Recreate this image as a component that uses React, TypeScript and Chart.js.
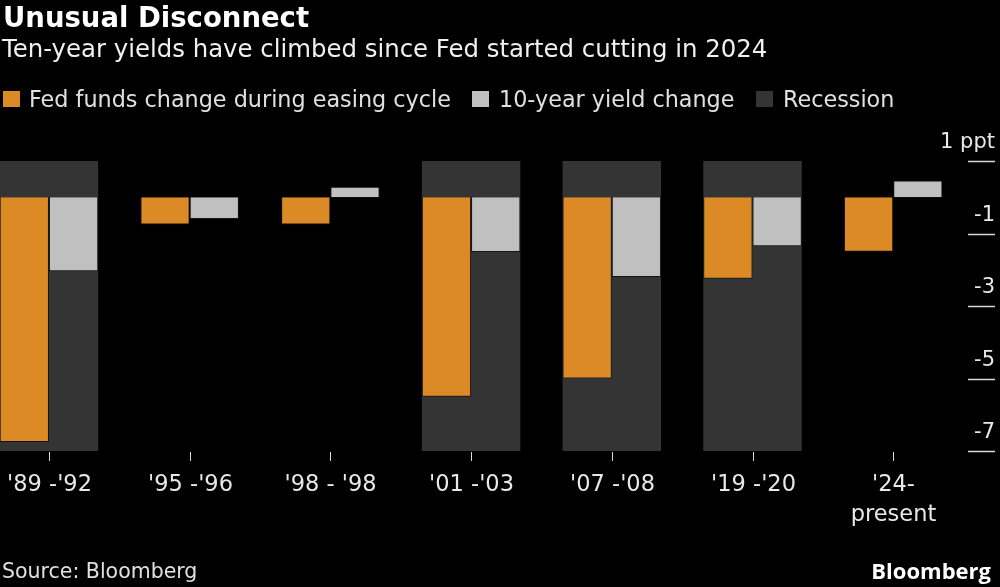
import React, { useEffect, useRef } from "react";
import { Chart, registerables } from "chart.js";

Chart.register(...registerables);

// ---------- data ----------
const categories: string[][] = [
  ["'89 -'92"],
  ["'95 -'96"],
  ["'98 - '98"],
  ["'01 -'03"],
  ["'07 -'08"],
  ["'19 -'20"],
  ["'24-", "present"],
];
const fedFundsChange = [-6.75, -0.75, -0.75, -5.5, -5.0, -2.25, -1.5];
const tenYearChange = [-2.04, -0.6, 0.29, -1.51, -2.2, -1.35, 0.46];
const recession = [true, false, false, true, true, true, false];
const yTicks = [1, -1, -3, -5, -7];
const yTickLabels = ["1 ppt", "-1", "-3", "-5", "-7"];
const yMin = -7;
const yMax = 1;

const seriesNames = ["Fed funds change during easing cycle", "10-year yield change", "Recession"];
const COLORS = { fed: "#DB8A26", ten: "#C0C0C0", rec: "#343434" };
const FONT = '"DejaVu Sans", sans-serif';

const axisPlugin = {
  id: "customAxes",
  afterDraw(chart: any) {
    const ctx = chart.ctx;
    const xs = chart.scales.x;
    const ys = chart.scales.y;
    const area = chart.chartArea;
    ctx.save();
    ctx.fillStyle = "#e8e8e8";
    ctx.strokeStyle = "#d8d8d8";
    ctx.font = `21px ${FONT}`;
    ctx.textAlign = "right";
    ctx.textBaseline = "alphabetic";
    yTicks.forEach((v, i) => {
      const y = Math.round(ys.getPixelForValue(v)) + 0.5;
      ctx.lineWidth = 1.5;
      ctx.beginPath();
      ctx.moveTo(area.right + 4, y);
      ctx.lineTo(chart.width - 5, y);
      ctx.stroke();
      ctx.fillText(yTickLabels[i], chart.width - 5, y - 14);
    });
    ctx.font = `22.5px ${FONT}`;
    ctx.textAlign = "center";
    ctx.textBaseline = "middle";
    categories.forEach((lines, i) => {
      const x = Math.round(xs.getPixelForValue(i)) + 0.5;
      ctx.lineWidth = 1;
      ctx.beginPath();
      ctx.moveTo(x, area.bottom + 1);
      ctx.lineTo(x, area.bottom + 10);
      ctx.stroke();
      lines.forEach((t, j) => ctx.fillText(t, x, area.bottom + 34 + j * 30));
    });
    ctx.restore();
  },
};

export default function App() {
  const ref = useRef<HTMLCanvasElement | null>(null);

  useEffect(() => {
    if (!ref.current) return;
    const chart = new Chart(ref.current, {
      type: "bar",
      data: {
        datasets: [
          {
            label: seriesNames[0],
            data: fedFundsChange.map((y, i) => ({ x: i, y })),
            backgroundColor: COLORS.fed,
            borderColor: "#151515",
            borderWidth: 1,
            categoryPercentage: 0.7,
            barPercentage: 1,
          },
          {
            label: seriesNames[1],
            data: tenYearChange.map((y, i) => ({ x: i, y })),
            backgroundColor: COLORS.ten,
            borderColor: "#151515",
            borderWidth: 1,
            categoryPercentage: 0.7,
            barPercentage: 1,
          },
          {
            label: seriesNames[2],
            data: recession
              .map((r, i) => (r ? { x: i, y: [yMin, yMax] } : null))
              .filter((d) => d !== null) as any,
            backgroundColor: COLORS.rec,
            borderWidth: 0,
            grouped: false,
            categoryPercentage: 0.7,
            barPercentage: 1,
          } as any,
        ],
      },
      options: {
        responsive: false,
        animation: false,
        layout: { padding: { left: 0, top: 161, right: 36, bottom: 136 } },
        plugins: {
          legend: { display: false },
          tooltip: { enabled: false },
          title: { display: false },
        },
        scales: {
          x: {
            type: "linear",
            min: -0.348,
            max: 6.503,
            offset: false,
            display: false,
            afterBuildTicks: (s: any) => {
              s.ticks = categories.map((_, i) => ({ value: i }));
            },
          },
          y: { min: yMin, max: yMax, display: false },
        },
      },
      plugins: [axisPlugin],
    } as any);
    return () => chart.destroy();
  }, []);

  const txt = (extra: React.CSSProperties): React.CSSProperties => ({
    position: "absolute",
    fontFamily: FONT,
    lineHeight: 1,
    whiteSpace: "nowrap",
    margin: 0,
    ...extra,
  });
  const sq = (left: number, color: string): React.CSSProperties => ({
    position: "absolute",
    left,
    top: 91,
    width: 17,
    height: 16,
    background: color,
  });

  return (
    <div style={{ position: "fixed", left: 0, top: 0, width: 1000, height: 587, background: "#000", overflow: "hidden" }}>
      <canvas ref={ref} width={1000} height={587} style={{ position: "absolute", left: 0, top: 0, width: 1000, height: 587 }} />
      <div style={txt({ left: 3, top: 4, fontSize: 27.5, fontWeight: "bold", color: "#fff" })}>Unusual Disconnect</div>
      <div style={txt({ left: 2, top: 37, fontSize: 24.4, color: "#f0f0f0" })}>
        Ten-year yields have climbed since Fed started cutting in 2024
      </div>
      <div style={sq(3, COLORS.fed)} />
      <div style={txt({ left: 29, top: 88, fontSize: 22.3, color: "#e0e0e0" })}>{seriesNames[0]}</div>
      <div style={sq(472, COLORS.ten)} />
      <div style={txt({ left: 499, top: 88, fontSize: 22.3, color: "#e0e0e0" })}>{seriesNames[1]}</div>
      <div style={sq(756, COLORS.rec)} />
      <div style={txt({ left: 783, top: 88, fontSize: 22.3, color: "#e0e0e0" })}>{seriesNames[2]}</div>
      <div style={txt({ left: 2, top: 561, fontSize: 20.5, color: "#e0e0e0" })}>Source: Bloomberg</div>
      <div style={txt({ right: 9, top: 559, fontSize: 22, fontWeight: "bold", color: "#fff", fontFamily: '"Open Sans", "DejaVu Sans", sans-serif' })}>
        Bloomberg
      </div>
    </div>
  );
}
